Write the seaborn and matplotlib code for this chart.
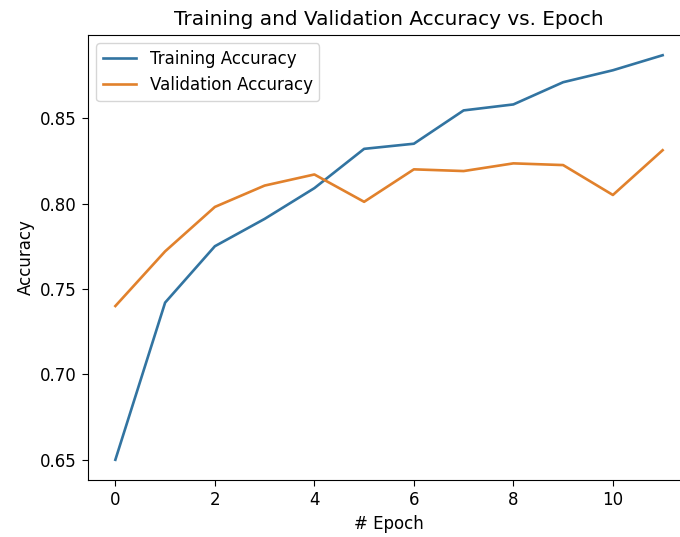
import pandas as pd
import matplotlib
matplotlib.use("Agg")
import matplotlib.pyplot as plt
import seaborn as sns

# Valeurs
epochs = list(range(12))
train_acc = [0.650, 0.742, 0.775, 0.791, 0.809, 0.832, 0.835, 0.8545, 0.858, 0.871, 0.878, 0.8868]
val_acc = [0.740, 0.772, 0.798, 0.8105, 0.817, 0.801, 0.820, 0.819, 0.8235, 0.8225, 0.805, 0.8312]
series_names = ["Training Accuracy", "Validation Accuracy"]
colors = ["#3274a1", "#e1812c"]

df = pd.DataFrame({
    "epoch": epochs * 2,
    "accuracy": train_acc + val_acc,
    "serie": [series_names[0]] * len(epochs) + [series_names[1]] * len(epochs),
})

plt.rcParams.update({"font.size": 12, "xtick.major.size": 4.5, "ytick.major.size": 4.5})

fig = plt.figure(figsize=(6.8, 5.37), dpi=100)
# l'image de référence est rognée à droite : la bordure droite sort du cadre
ax = fig.add_axes([88 / 680, 57 / 537, 602 / 680, 445 / 537])

sns.lineplot(data=df, x="epoch", y="accuracy", hue="serie", palette=colors,
             linewidth=1.9, ax=ax)

ax.set_title("Training and Validation Accuracy vs. Epoch", fontsize=14.4, pad=7)
ax.set_xlabel("# Epoch", fontsize=12)
ax.set_ylabel("Accuracy", fontsize=12)
ax.set_xticks([0, 2, 4, 6, 8, 10])
ax.yaxis.set_major_formatter(matplotlib.ticker.FormatStrFormatter("%.2f"))
ax.legend(loc="upper left", fontsize=12, frameon=True)

fig.savefig("out.png", dpi=100)
plt.close(fig)
